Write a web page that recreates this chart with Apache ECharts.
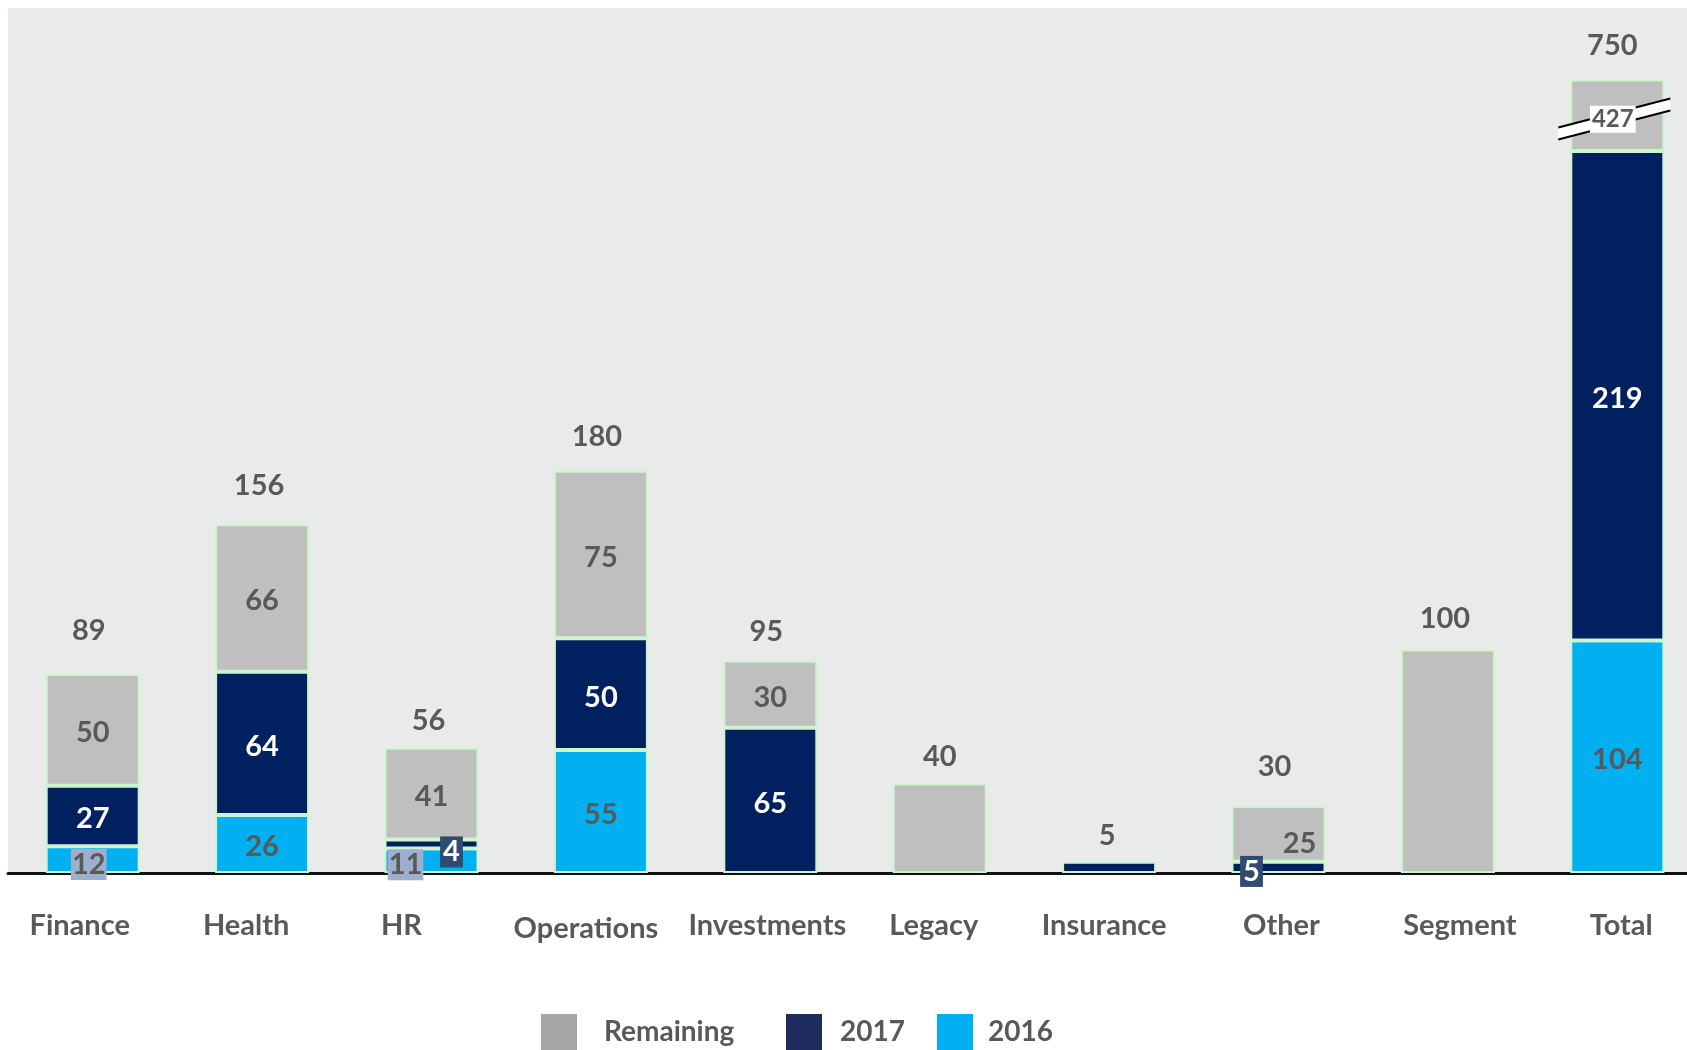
<!DOCTYPE html>
<html>
<head>
<meta charset="utf-8">
<script src="https://cdn.jsdelivr.net/npm/echarts@6/dist/echarts.min.js"></script>
<style>
  html, body { margin: 0; padding: 0; background: #ffffff; }
  #chart { width: 1687px; height: 1050px; }
</style>
</head>
<body>
<div id="chart"></div>
<script>
// ---- data ----
const categories = ['Finance', 'Health', 'HR', 'Operations', 'Investments', 'Legacy', 'Insurance', 'Other', 'Segment', 'Total'];
const values2016 = [12, 26, 11, 55, 0, 0, 0, 0, 0, 104];
const values2017 = [27, 64, 4, 50, 65, 0, 5, 5, 0, 219];
const valuesRemaining = [50, 66, 41, 75, 30, 40, 0, 25, 100, 427];
const totals = [89, 156, 56, 180, 95, 40, 5, 30, 100, 750];
const brokenShownHeight = 32; // visible part of the broken "Remaining" segment in Total
const seriesNames = ['Remaining', '2017', '2016'];

// ---- styles ----
const FONT = 'Lato';
const GREY = '#595959';
const C2016 = '#00b0f0', C2017 = '#002060', CREM = '#bfbfbf';
const BORDER = '#cdf5cd';
const BAR_W = 94;
const VAL_FS = 29;
const totalIdx = categories.length - 1;

const lightBox = { backgroundColor: '#9dafcc', color: GREY, padding: [2, 1, 0, 1] };
const darkBox = { backgroundColor: '#2f4b70', color: '#ffffff', padding: [2, 3, 0, 3] };
const labelOverrides = {
  '2016': { 0: Object.assign({ offset: [-4, 5] }, lightBox), 2: Object.assign({ offset: [-26, 4] }, lightBox) },
  '2017': { 2: Object.assign({ offset: [20, 8] }, darkBox), 6: { show: false }, 7: Object.assign({ offset: [-27, 4] }, darkBox) },
  'Remaining': { 5: { show: false }, 7: { offset: [21, 10] }, 8: { show: false }, 9: { show: false } }
};
const totalLabelDistance = [29, 24, 13, 20, 15, 12, 12, 25, 16, 19];
const totalLabelDx = [-4, -3, -3, -4, -4, 0, -2, -4, -3, -5];
const catShift = [-13, -16, -30, -15, -3, -6, -5, 3, 12, 4];

const shownRemaining = valuesRemaining.map((v, i) => i === totalIdx ? brokenShownHeight : v);
const stackHeights = categories.map((c, i) => values2016[i] + values2017[i] + shownRemaining[i]);

function buildData(values, shown, name) {
  return values.map((v, i) => {
    if (!v) return '-';
    const item = { value: shown[i] };
    const o = labelOverrides[name][i];
    if (o) item.label = o;
    return item;
  });
}

const richCats = {};
catShift.forEach((d, i) => {
  richCats['c' + i] = {
    fontFamily: FONT, fontWeight: 'bold', fontSize: 29, color: GREY,
    padding: [i === 3 ? 3 : 0, d < 0 ? -2 * d : 0, 0, d > 0 ? 2 * d : 0]
  };
});

const labelBase = { show: true, position: 'inside', offset: [0, 3], fontFamily: FONT, fontWeight: 'bold', fontSize: VAL_FS };

const chart = echarts.init(document.getElementById('chart'), null, { renderer: 'canvas' });

const legendItem = (name, color, left, gap) => ({
  data: [{ name: name, icon: 'rect', itemStyle: { color: color, borderWidth: 0 } }],
  left: left, top: 1014, padding: 0, itemWidth: 36, itemHeight: 36,
  selectedMode: false,
  textStyle: { fontFamily: FONT, fontWeight: 'bold', fontSize: 28, color: GREY, padding: [0, 0, 0, gap] }
});

chart.setOption({
  animation: false,
  backgroundColor: '#ffffff',
  grid: {
    left: 8, top: 8, width: 1694, height: 865, show: true, backgroundColor: '#e9ebea', borderWidth: 0,
    containLabel: false, outerBoundsMode: 'none'
  },
  legend: [
    legendItem(seriesNames[0], '#a6a6a6', 541, 22),
    legendItem(seriesNames[1], '#1f2d5e', 786, 13),
    legendItem(seriesNames[2], C2016, 937, 10)
  ],
  xAxis: {
    type: 'category',
    data: categories,
    axisTick: { show: false },
    axisLine: { show: true, lineStyle: { color: '#111111', width: 3 } },
    axisLabel: {
      interval: 0, margin: 38, hideOverlap: false,
      formatter: (v, i) => '{c' + i + '|' + v + '}',
      rich: richCats
    },
    splitLine: { show: false }
  },
  yAxis: {
    type: 'value', min: 0, max: 387,
    show: false,
    splitLine: { show: false }
  },
  series: [
    {
      name: '2016', type: 'bar', stack: 'a', barWidth: BAR_W, barGap: '-100%',
      data: buildData(values2016, values2016, '2016'),
      itemStyle: { color: C2016, borderColor: BORDER, borderWidth: 2 },
      label: Object.assign({}, labelBase, { color: GREY })
    },
    {
      name: '2017', type: 'bar', stack: 'a', barWidth: BAR_W, barGap: '-100%',
      data: buildData(values2017, values2017, '2017'),
      itemStyle: { color: C2017, borderColor: BORDER, borderWidth: 2 },
      label: Object.assign({}, labelBase, { color: '#ffffff' })
    },
    {
      name: 'Remaining', type: 'bar', stack: 'a', barWidth: BAR_W, barGap: '-100%',
      data: buildData(valuesRemaining, shownRemaining, 'Remaining'),
      itemStyle: { color: CREM, borderColor: BORDER, borderWidth: 2 },
      label: Object.assign({}, labelBase, { color: GREY, formatter: p => String(valuesRemaining[p.dataIndex]) })
    },
    {
      name: 'totals', type: 'bar', barWidth: BAR_W, barGap: '-100%', silent: true, z: 1,
      data: stackHeights.map((h, i) => ({
        value: h,
        label: { distance: totalLabelDistance[i], offset: [totalLabelDx[i], 0] }
      })),
      itemStyle: { color: 'rgba(0,0,0,0)', borderWidth: 0 },
      label: {
        show: true, position: 'top', fontFamily: FONT, fontWeight: 'bold', fontSize: VAL_FS, color: GREY,
        formatter: p => String(totals[p.dataIndex])
      }
    },
    {
      name: 'break', type: 'custom', z: 10, silent: true,
      data: [[totalIdx, values2016[totalIdx] + values2017[totalIdx] + brokenShownHeight / 2, valuesRemaining[totalIdx]]],
      encode: { x: 0, y: 1 },
      renderItem: function (params, api) {
        const c = api.coord([api.value(0), api.value(1)]);
        const x = c[0], y = c[1] + 3;
        const s = 0.259, L = 59, R = 53, h = 6;
        const p0 = [x - L, y + L * s - h], p1 = [x + R, y - R * s - h];
        const p2 = [x + R, y - R * s + h], p3 = [x - L, y + L * s + h];
        return {
          type: 'group',
          children: [
            { type: 'polygon', shape: { points: [p0, p1, p2, p3] }, style: { fill: '#ffffff' } },
            { type: 'line', shape: { x1: p0[0], y1: p0[1], x2: p1[0], y2: p1[1] }, style: { stroke: '#000000', lineWidth: 2 } },
            { type: 'line', shape: { x1: p3[0], y1: p3[1], x2: p2[0], y2: p2[1] }, style: { stroke: '#000000', lineWidth: 2 } },
            {
              type: 'text', x: x - 4.5, y: y + 1,
              style: {
                text: String(api.value(2)), fill: GREY, fontFamily: FONT, fontWeight: 'bold', fontSize: 24,
                align: 'center', verticalAlign: 'middle', backgroundColor: '#ffffff', padding: [2, 2, 1, 2]
              }
            }
          ]
        };
      }
    }
  ]
});
</script>
</body>
</html>
